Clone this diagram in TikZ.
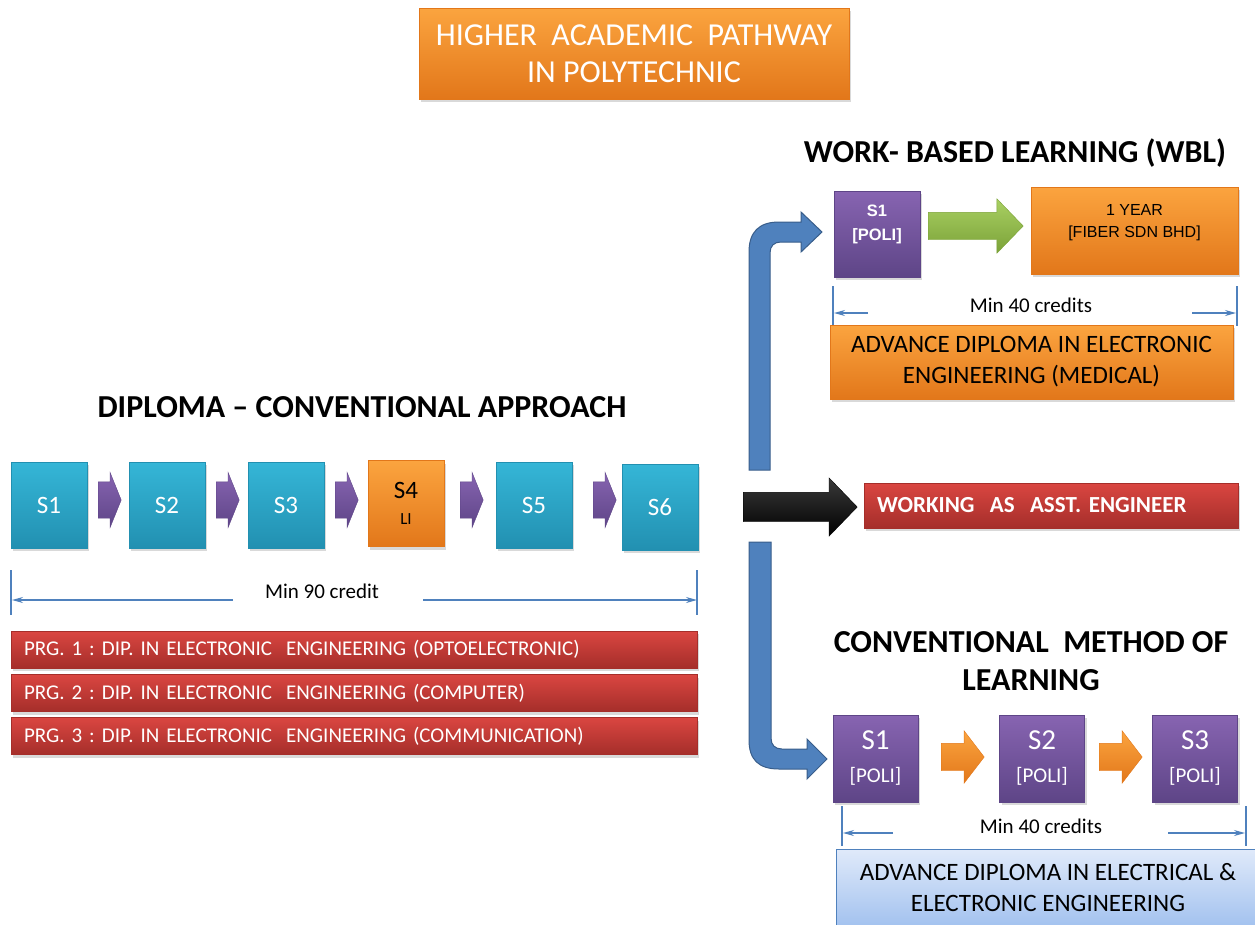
\documentclass[tikz,border=0pt]{standalone}
\usepackage{fontspec}
\setmainfont{Carlito}
\newfontfamily\arialfont{Liberation Sans}
\usetikzlibrary{arrows.meta,positioning,calc,shapes.arrows,shadows}
\newcommand\fsz[2]{\fontsize{#1}{#2}\selectfont}
\definecolor{cTEAL}{HTML}{35B6D7}
\definecolor{cTEALd}{HTML}{2290B1}
\definecolor{cORG}{HTML}{FBA43F}
\definecolor{cORGd}{HTML}{E2771A}
\definecolor{cPUR}{HTML}{8764B1}
\definecolor{cPURd}{HTML}{5E4587}
\definecolor{cRED}{HTML}{DA4641}
\definecolor{cREDd}{HTML}{A52E2A}
\definecolor{cBLU}{HTML}{4F81BD}
\definecolor{cBLUd}{HTML}{385D8A}
\definecolor{cGRN}{HTML}{A9D063}
\definecolor{cGRNd}{HTML}{7BA238}
\definecolor{cSKY}{HTML}{E0EAFA}
\definecolor{cSKYd}{HTML}{A3C2EF}
\definecolor{cBLK}{HTML}{3A3A3A}
\definecolor{cBLKd}{HTML}{000000}
\frenchspacing

\begin{document}
\begin{tikzpicture}[x=1pt, y=-1pt, >=Stealth,
  box/.style={draw=#1d, top color=#1, bottom color=#1d, inner sep=0pt, align=center,
    drop shadow={opacity=0.3, shadow xshift=2pt, shadow yshift=-3pt}},
  sem/.style={box=#1, minimum width=76pt, minimum height=86pt, text=white, font=\fsz{25}{30}},
  cml/.style={box=cPUR, minimum width=85pt, minimum height=87pt, text=white, font=\fsz{29}{33}},
  bar/.style={box=cRED, minimum width=686pt, minimum height=37pt, text width=660pt,
    inner xsep=13pt, align=left, text=white, font=\fsz{21}{25}},
  head/.style={font=\bfseries\fsz{32}{38}, align=center},
  blk/.style={single arrow, draw=#1d, top color=#1, bottom color=#1d, inner xsep=0pt, anchor=tail},
  bent/.style={fill=cBLU, draw=cBLUd, line width=1pt},
  dim/.style={draw=cBLU, line width=1.2pt},
  dimtip/.style={dim, -{Stealth[length=11pt,width=6pt]}},
  note/.style={font=\fsz{21}{25}}]
\useasboundingbox (0,0) rectangle (1255,924);

% title
\node[box=cORG, minimum width=430pt, minimum height=91pt, text=white, font=\fsz{32}{37}]
  (title) at (634,53.5) {HIGHER~ ACADEMIC~ PATHWAY\\IN POLYTECHNIC};

% diploma, conventional approach
\node[head] (diphead) at (362,407) {DIPLOMA -- CONVENTIONAL APPROACH};
\foreach \n/\x/\y in {1/49/505, 2/167/505, 3/286/505, 5/534/505, 6/660/507}
  \node[sem=cTEAL] (s\n) at (\x,\y) {S\n};
\node[sem=cORG, text=black] (s4) at (406,503.5) {S4\\[-4pt]{\fsz{17}{20}LI}};
\foreach \a/\x in {12/98, 23/216, 34/335, 45/460, 56/593}
  \node[blk=cPUR, minimum height=23pt, minimum width=55pt, inner ysep=18pt,
    single arrow head extend=9.5pt, single arrow tip angle=136] (p\a) at (\x,500) {};

\coordinate (d90l) at (12,600); \coordinate (d90r) at (697,600);
\draw[dim] (11,570) -- (11,615);
\draw[dim] (697,570) -- (697,615);
\node[note] (min90) at (322,591) {Min 90 credit};
\draw[dimtip] (233,600) -- (d90l);
\draw[dimtip] (423,600) -- (d90r);

\foreach \i/\t/\y in {1/OPTOELECTRONIC/649.5, 2/COMPUTER/693, 3/COMMUNICATION/736}
  \node[bar] (prg\i) at (354,\y) {PRG. \i\ : DIP. IN ELECTRONIC~ ENGINEERING (\t)};

% the three ways on
\filldraw[bent] (749,470) -- (749,252) .. controls (749,232) and (759,222) .. (779,222)
  -- (801,222) -- (801,212) -- (822,232) -- (801,252) -- (801,242) -- (781,242)
  .. controls (774,242) and (770,246) .. (770,253) -- (770,470) -- cycle;
\filldraw[bent] (749,542) -- (749,740) .. controls (749,760) and (759,769) .. (779,769)
  -- (807,769) -- (807,779) -- (827,759) -- (807,739) -- (807,749) -- (782,749)
  .. controls (775,749) and (771,745) .. (771,738) -- (771,542) -- cycle;
\node[blk=cBLK, minimum height=114pt, minimum width=58pt, inner ysep=14.5pt,
  single arrow head extend=14.5pt, single arrow tip angle=92] (go) at (743,507) {};
\node[box=cRED, minimum width=374pt, minimum height=45pt, text width=348pt, inner xsep=13pt,
  align=left, text=white, font=\bfseries\fsz{23}{27}] (work) at (1051,505.5)
  {WORKING~ AS~ ASST. ENGINEER};

% work-based learning
\node[head] (wblhead) at (1015,153) {WORK- BASED LEARNING (WBL)};
\node[box=cPUR, minimum width=86pt, minimum height=86pt, text=white, font=\arialfont\bfseries\fsz{16.5}{24}]
  (wbl1) at (877,234) {S1\\{[POLI]}\\[-2pt]\mbox{}};
\node[blk=cGRN, minimum height=95pt, minimum width=54pt, inner ysep=13.5pt,
  single arrow head extend=13.5pt, single arrow tip angle=92] (wblgo) at (928,226) {};
\node[box=cORG, minimum width=207pt, minimum height=87pt, font=\arialfont\fsz{16}{22}]
  (fiber) at (1134.5,230.5) {1 YEAR\\{[FIBER SDN BHD]}\\[-2pt]\mbox{}};
\coordinate (d40l) at (834,313); \coordinate (d40r) at (1236,313);
\draw[dim] (833,286) -- (833,326);
\draw[dim] (1237,286) -- (1237,326);
\node[note] (min40) at (1031,305) {Min 40 credits};
\draw[dimtip] (868,313) -- (d40l);
\draw[dimtip] (1192,313) -- (d40r);
\node[box=cORG, minimum width=403pt, minimum height=74pt, font=\fsz{25}{31}]
  (medical) at (1031.5,362) {ADVANCE DIPLOMA IN ELECTRONIC\\ENGINEERING (MEDICAL)};

% conventional method
\node[head] (cmlhead) at (1031,661) {CONVENTIONAL~ METHOD OF\\LEARNING};
\foreach \n/\x in {1/875.5, 2/1042, 3/1195}
  \node[cml] (c\n) at (\x,758.5) {S\n\\{\fsz{21}{25}[POLI]}};
\foreach \a/\x in {12/941, 23/1099}
  \node[blk=cORG, minimum height=43pt, minimum width=52pt, inner ysep=13.5pt,
    single arrow head extend=12.5pt, single arrow tip angle=105] (o\a) at (\x,757) {};
\coordinate (c40l) at (843,833); \coordinate (c40r) at (1245,833);
\draw[dim] (842,806) -- (842,846);
\draw[dim] (1246,806) -- (1246,846);
\node[note] (cmin40) at (1041,826) {Min 40 credits};
\draw[dimtip] (893,833) -- (c40l);
\draw[dimtip] (1168,833) -- (c40r);
\node[box=cSKY, draw=cBLU, minimum width=424pt, minimum height=77pt, font=\fsz{25}{31}]
  (eee) at (1048,887.5) {ADVANCE DIPLOMA IN ELECTRICAL \&\\ELECTRONIC ENGINEERING};
\end{tikzpicture}
\end{document}
